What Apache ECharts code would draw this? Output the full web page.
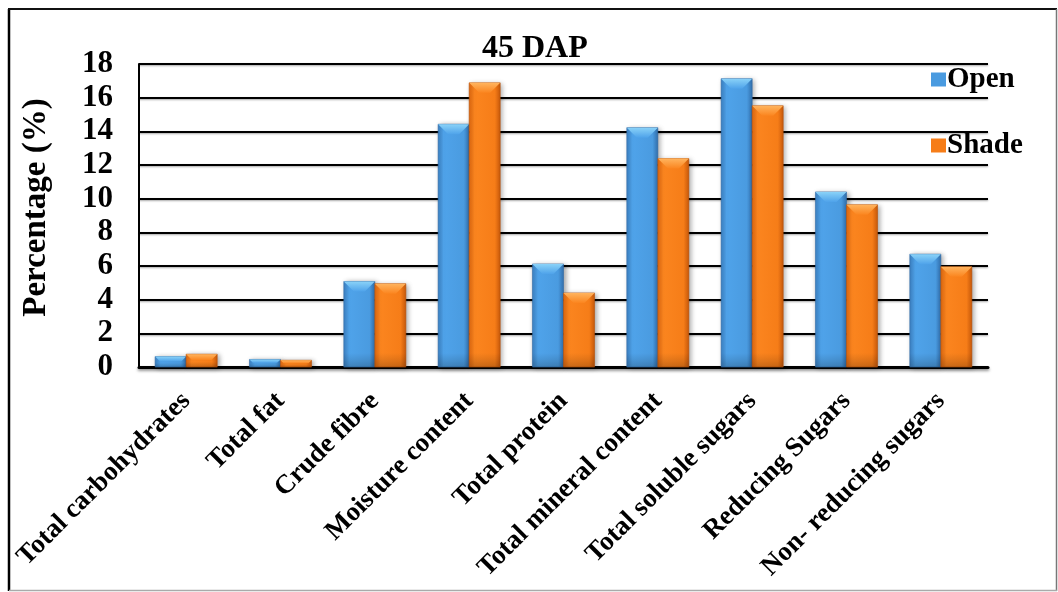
<!DOCTYPE html>
<html>
<head>
<meta charset="utf-8">
<script src="https://cdn.jsdelivr.net/npm/echarts@6/dist/echarts.min.js"></script>
<style>
  html, body { margin: 0; padding: 0; background: #fff; }
  #chart { width: 1058px; height: 592px; }
</style>
</head>
<body>
<div id="chart"></div>
<script>
// Proximate composition at 45 days after planting
const categories = [
  'Total carbohydrates', 'Total fat', 'Crude fibre', 'Moisture content',
  'Total protein', 'Total mineral content', 'Total soluble sugars',
  'Reducing Sugars', 'Non- reducing sugars'
];
const openValues  = [0.62, 0.45, 5.08, 14.42, 6.12, 14.22, 17.13, 10.40, 6.70];
const shadeValues = [0.76, 0.40, 4.95, 16.88, 4.40, 12.38, 15.52, 9.64, 5.96];
const yTicks = [0, 2, 4, 6, 8, 10, 12, 14, 16, 18];

const FONT = '"Liberation Serif", "Times New Roman", serif';

const palette = {
  Open:  { main: '#4a9be0', edgeL: '#3c82c4', mid: '#4fa3ea', edgeR: '#3270ae', top: '#8ad2f8', bottom: '#2f6aa6' },
  Shade: { main: '#f67d18', edgeL: '#e0680f', mid: '#fb851f', edgeR: '#c8590b', top: '#ffb45e', bottom: '#b9520a' }
};

// Bevelled bar drawn through the category/value scales
function bevelBar(name, side) {
  const c = palette[name];
  return function (params, api) {
    const idx = api.value(0);
    const val = api.value(1);
    const base = api.coord([idx, 0]);
    const top = api.coord([idx, val]);
    const band = api.size([1, 0])[0];
    const bw = band * 0.329;
    const x = side === 0 ? base[0] - bw : base[0];
    const h = base[1] - top[1];
    const bev = Math.min(10, h * 0.45);
    const bodyFill = new echarts.graphic.LinearGradient(0, 0, 1, 0, [
      { offset: 0, color: c.edgeL },
      { offset: 0.18, color: c.mid },
      { offset: 0.82, color: c.main },
      { offset: 1, color: c.edgeR }
    ]);
    const bottomFill = new echarts.graphic.LinearGradient(0, 0, 0, 1, [
      { offset: 0, color: 'rgba(0,0,0,0)' },
      { offset: 1, color: 'rgba(0,0,0,0.18)' }
    ]);
    const topFill = new echarts.graphic.LinearGradient(0, 0, 0, 1, [
      { offset: 0, color: c.top },
      { offset: 1, color: c.mid }
    ]);
    return {
      type: 'group',
      children: [
        {
          type: 'rect',
          shape: { x: x, y: top[1], width: bw, height: h },
          style: {
            fill: bodyFill,
            stroke: c.bottom, lineWidth: 0.6,
            shadowBlur: 5, shadowOffsetX: 2, shadowOffsetY: 1,
            shadowColor: 'rgba(0,0,0,0.35)'
          }
        },
        {
          type: 'rect',
          shape: { x: x, y: base[1] - Math.min(14, h * 0.4), width: bw, height: Math.min(14, h * 0.4) },
          style: { fill: bottomFill }
        },
        {
          type: 'polygon',
          shape: { points: [[x, top[1]], [x + bw, top[1]], [x + bw - bev, top[1] + bev], [x + bev, top[1] + bev]] },
          style: { fill: topFill }
        }
      ]
    };
  };
}

const chart = echarts.init(document.getElementById('chart'), null, { renderer: 'canvas' });

chart.setOption({
  backgroundColor: '#ffffff',
  animation: false,
  title: {
    text: '45 DAP',
    left: 477,
    top: 28,
    textStyle: { fontFamily: FONT, fontWeight: 'bold', fontSize: 32, color: '#000' }
  },
  legend: {
    orient: 'vertical',
    left: 926,
    top: 60,
    itemGap: 37,
    itemWidth: 15,
    itemHeight: 14,
    icon: 'rect',
    textStyle: { fontFamily: FONT, fontWeight: 'bold', fontSize: 29, color: '#000', padding: [0, 0, 0, -4] },
    data: ['Open', 'Shade']
  },
  grid: { left: 139, right: 70, top: 64, bottom: 225 },
  xAxis: {
    type: 'category',
    data: categories,
    axisTick: { show: false },
    axisLine: { lineStyle: { color: '#000', width: 3, shadowBlur: 3, shadowColor: 'rgba(0,0,0,0.4)', shadowOffsetY: 2 } },
    axisLabel: {
      interval: 0,
      rotate: 45,
      margin: 30,
      fontFamily: FONT,
      fontWeight: 'bold',
      fontSize: 27,
      color: '#000'
    }
  },
  yAxis: {
    type: 'value',
    min: yTicks[0],
    max: yTicks[yTicks.length - 1],
    interval: yTicks[1] - yTicks[0],
    name: 'Percentage (%)',
    nameLocation: 'middle',
    nameGap: 86,
    nameTextStyle: { fontFamily: FONT, fontWeight: 'bold', fontSize: 33, color: '#000', padding: [0, 0, 0, 16] },
    axisLine: { show: true, lineStyle: { color: '#000', width: 2 } },
    axisTick: { show: false },
    axisLabel: {
      margin: 26,
      fontFamily: FONT,
      fontWeight: 'bold',
      fontSize: 31,
      color: '#000'
    },
    splitLine: { lineStyle: { color: '#000', width: 2, shadowBlur: 2, shadowColor: 'rgba(0,0,0,0.35)', shadowOffsetY: 1 } }
  },
  series: [
    {
      name: 'Open',
      type: 'custom',
      itemStyle: { color: palette.Open.main },
      renderItem: bevelBar('Open', 0),
      encode: { x: 0, y: 1 },
      data: openValues.map((v, i) => [i, v]),
      z: 3
    },
    {
      name: 'Shade',
      type: 'custom',
      itemStyle: { color: palette.Shade.main },
      renderItem: bevelBar('Shade', 1),
      encode: { x: 0, y: 1 },
      data: shadeValues.map((v, i) => [i, v]),
      z: 3
    }
  ],
  graphic: [
    { type: 'line', shape: { x1: 9, y1: 9, x2: 9, y2: 591 }, style: { stroke: '#000', lineWidth: 2.5 } },
    { type: 'line', shape: { x1: 8, y1: 9, x2: 1057, y2: 9 }, style: { stroke: '#111', lineWidth: 2 } },
    { type: 'line', shape: { x1: 1056.5, y1: 9, x2: 1056.5, y2: 591 }, style: { stroke: '#777', lineWidth: 1.5 } },
    { type: 'line', shape: { x1: 9, y1: 590.5, x2: 1057, y2: 590.5 }, style: { stroke: '#aaa', lineWidth: 1.5 } }
  ]
});
</script>
</body>
</html>
